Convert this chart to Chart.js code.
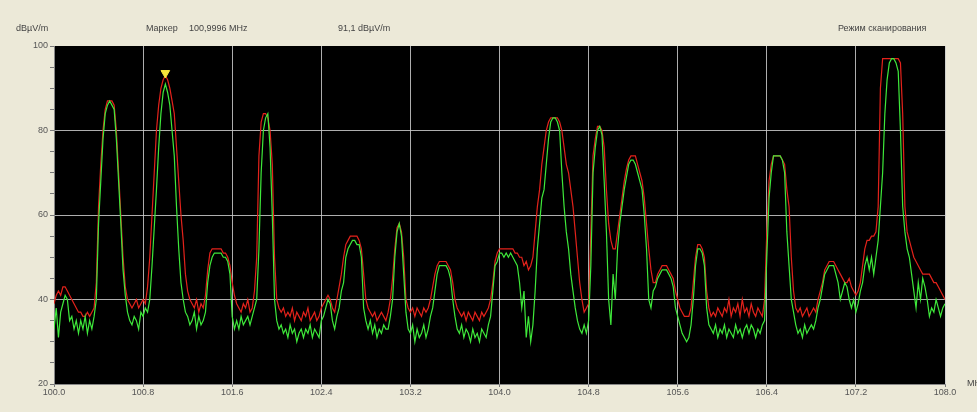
<!DOCTYPE html>
<html>
<head>
<meta charset="utf-8">
<script src="https://cdn.jsdelivr.net/npm/chart.js@4.4.1/dist/chart.umd.min.js"></script>
<style>
  body { margin: 0; background: #ece9d8; }
  #wrap { width: 977px; height: 412px; position: relative; }
</style>
</head>
<body>
<div id="wrap"><canvas id="spectrum"></canvas></div>
<script>
// spectrum sweep 100..108 MHz, one reading every 0.02 MHz (rows of 0.5 MHz)
const startFreq = 100.0;
const stepFreq = 0.02;

// red trace (max hold), dBuV/m
const redTrace = [
  39,41,42,41,43,43,42,41,40,39,38,37,37,36,36,37,36,37,38,44,62,72,80,85,87,
  87,87,86,80,70,60,50,43,40,39,38,39,40,38,39,40,39,43,50,60,70,80,86,90,92,
  93,92,90,87,84,76,68,60,54,46,42,40,39,38,40,37,39,38,41,47,51,52,52,52,52,
  52,51,51,50,48,44,41,39,38,37,39,38,40,37,38,42,50,74,82,84,84,83,80,72,50,
  40,38,37,38,36,37,36,38,35,37,36,35,37,36,38,35,36,37,35,36,38,39,40,41,40,
  38,37,40,43,46,50,53,54,55,55,55,55,54,52,46,40,38,37,36,37,35,36,37,36,35,
  37,40,45,52,57,58,56,50,40,38,37,38,36,38,37,36,38,37,38,40,43,46,48,49,49,
  49,49,48,47,44,40,38,37,36,37,35,37,36,35,37,36,35,37,36,37,38,40,44,49,51,
  52,52,52,52,52,52,52,51,51,50,50,48,49,47,48,50,56,62,66,72,76,80,82,83,83,
  83,83,82,80,76,72,70,66,62,56,50,44,40,37,38,39,56,74,78,81,81,80,76,66,58,
  54,52,52,56,60,64,68,71,73,74,74,74,72,70,68,64,58,52,47,44,44,46,47,48,48,
  48,47,46,45,42,40,38,37,36,36,36,38,44,50,53,53,52,50,42,38,36,37,36,38,37,
  36,38,37,40,36,38,37,39,36,40,37,38,36,39,37,36,38,37,36,40,56,68,72,74,74,
  74,74,73,72,66,62,50,42,38,37,38,36,37,38,36,37,38,37,40,42,44,47,48,49,49,
  49,48,47,46,45,44,44,45,43,42,41,42,44,48,52,54,54,55,55,56,62,90,97,97,97,
  97,97,97,97,97,96,84,62,56,54,52,50,49,48,47,46,46,46,46,45,44,44,43,42,41,
  40
];

// green trace (current sweep), dBuV/m
const greenTrace = [
  33,38,31,37,39,41,40,35,36,33,35,32,35,33,36,32,35,33,36,40,58,68,78,84,86,
  87,86,85,78,68,58,47,41,37,35,34,36,35,33,37,36,38,37,40,48,57,66,76,84,89,
  91,89,86,80,74,62,52,44,40,37,36,34,35,37,33,36,34,35,37,44,48,50,51,51,51,
  51,50,50,49,46,36,33,35,33,36,34,35,36,34,36,38,40,52,70,80,83,84,76,60,40,
  35,33,34,32,33,31,34,32,33,30,32,33,31,33,32,34,31,33,32,31,35,36,38,40,39,
  35,33,36,38,42,44,50,52,53,54,54,53,53,50,38,35,33,35,32,34,31,33,32,34,33,
  33,36,40,50,56,58,55,46,37,33,32,34,30,33,31,32,34,31,33,36,38,42,46,48,48,
  48,48,47,45,40,36,33,32,34,31,33,32,30,33,31,32,30,33,32,31,34,36,42,48,49,
  51,51,50,51,50,51,50,49,48,44,38,42,31,36,30,34,42,52,58,64,66,72,78,82,83,
  83,82,80,70,62,56,52,46,42,38,35,33,32,34,32,35,48,70,76,80,81,79,68,56,40,
  34,46,40,52,58,62,66,69,72,73,73,72,70,68,66,60,52,40,38,42,43,45,46,47,47,
  47,46,45,43,38,36,34,32,31,30,31,34,40,48,52,52,51,48,38,34,33,32,34,31,33,
  32,34,31,33,32,31,34,32,33,31,33,34,32,34,33,31,33,32,34,35,50,64,70,74,74,
  74,74,73,70,56,48,40,37,34,32,33,31,34,32,33,34,33,35,38,40,43,46,47,48,48,
  48,46,44,40,42,44,43,40,38,40,37,39,42,44,48,50,47,50,46,50,54,62,70,84,92,
  96,97,97,96,94,80,62,56,52,50,46,42,38,44,40,45,43,40,36,38,37,40,38,36,38,
  39
];

// marker
const markerFreq = [100.9996];
const markerLevel = [93.6];

const freqs = redTrace.map((v, i) => +(startFreq + i * stepFreq).toFixed(2));
const toPoints = (arr) => arr.map((v, i) => ({ x: freqs[i], y: v }));

const labelFont = { family: "Liberation Sans, Arial, sans-serif", size: 9 };
const labelColor = "#555";

const panelPlugin = {
  id: "panel",
  beforeDraw(chart) {
    const c = chart.ctx, a = chart.chartArea;
    c.save();
    c.fillStyle = "#ece9d8";
    c.fillRect(0, 0, chart.width, chart.height);
    c.fillStyle = "#000";
    c.fillRect(a.left, a.top, a.right - a.left, a.bottom - a.top);
    c.restore();
  },
  afterDraw(chart) {
    const c = chart.ctx;
    c.save();
    c.font = "9px 'Liberation Sans', Arial, sans-serif";
    c.fillStyle = "#444";
    c.textBaseline = "middle";
    c.fillText("dBµV/m", 16, 29);
    c.fillText("Маркер", 146, 29);
    c.fillText("100,9996 MHz", 189, 29);
    c.fillText("91,1 dBµV/m", 338, 29);
    c.fillText("Режим сканирования", 838, 29);
    c.fillText("MHz", 967, 384);
    c.restore();
  }
};

new Chart(document.getElementById("spectrum"), {
  type: "line",
  data: {
    datasets: [
      {
        label: "marker",
        type: "scatter",
        data: markerFreq.map((f, i) => ({ x: f, y: markerLevel[i] })),
        pointStyle: "triangle",
        rotation: 180,
        pointRadius: 5,
        backgroundColor: "#f7e53a",
        borderColor: "#f7e53a",
        order: 0,
      },
      {
        label: "green",
        data: toPoints(greenTrace),
        borderColor: "#3ee83a",
        borderWidth: 1.2,
        pointRadius: 0,
        tension: 0,
        order: 1,
      },
      {
        label: "red",
        data: toPoints(redTrace),
        borderColor: "#e3221b",
        borderWidth: 1.2,
        pointRadius: 0,
        tension: 0,
        order: 2,
      },
    ],
  },
  options: {
    responsive: true,
    maintainAspectRatio: false,
    animation: false,
    layout: { padding: { top: 46, right: 32, left: 0, bottom: 0 } },
    plugins: { legend: { display: false }, tooltip: { enabled: false } },
    scales: {
      x: {
        type: "linear",
        min: 100,
        max: 108,
        afterFit: (s) => { s.height = 28; },
        afterBuildTicks: (s) => {
          s.ticks = [];
          for (let k = 0; k <= 10; k++) s.ticks.push({ value: +(100 + k * 0.8).toFixed(1) });
        },
        ticks: {
          font: labelFont,
          color: labelColor,
          padding: 0,
          maxRotation: 0,
          autoSkip: false,
          callback: (v) => Number(v).toFixed(1),
        },
        grid: {
          color: "rgba(205,205,205,0.85)",
          tickColor: "#777",
          tickLength: 3,
        },
        border: { color: "#888" },
      },
      y: {
        min: 20,
        max: 100,
        afterFit: (s) => { s.width = 54; },
        ticks: {
          stepSize: 5,
          font: labelFont,
          color: labelColor,
          padding: 2,
          autoSkip: false,
          callback: (v) => (v % 20 === 0 ? v : ""),
        },
        grid: {
          color: (ctx) => (ctx.tick && ctx.tick.value % 20 === 0 && ctx.tick.value > 20 && ctx.tick.value < 100 ? "rgba(205,205,205,0.85)" : "rgba(0,0,0,0)"),
          tickColor: "#777",
          tickLength: 4,
        },
        border: { color: "#888" },
      },
    },
  },
  plugins: [panelPlugin],
});
</script>
</body>
</html>
